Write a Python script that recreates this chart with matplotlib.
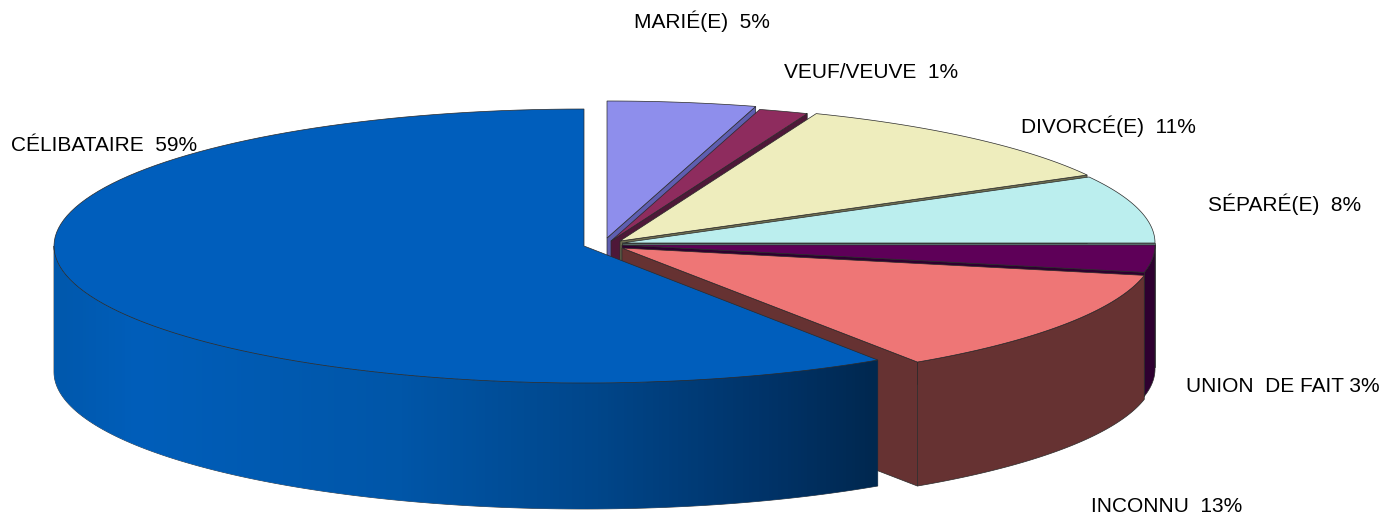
import numpy as np
import matplotlib
matplotlib.use("Agg")
import matplotlib.pyplot as plt
from matplotlib.colors import LinearSegmentedColormap
from matplotlib.patches import Polygon

plt.rcParams['font.family'] = ['Liberation Sans', 'DejaVu Sans']

# slices, clockwise from 12 o'clock
labels = ['MARIÉ(E)  5%', 'VEUF/VEUVE  1%', 'DIVORCÉ(E)  11%', 'SÉPARÉ(E)  8%',
          'UNION  DE FAIT 3%', 'INCONNU  13%', 'CÉLIBATAIRE  59%']
shares = [4.5, 1.5, 11.0, 8.0, 3.2, 12.45, 59.35]

top_colors = ['#8E8EEC', '#8E2C5E', '#EEEDBD', '#BBEEEE', '#5E0058', '#EE7676', '#005EBC']
cut_colors = ['#5E5EB0', '#4E1838', '#6E6E50', '#6E8E8E', '#2E0030', '#663232', '#00407E']
wall_colors = ['#5E5EB0', '#4E1838', '#8E8E70', '#6E8E8E', '#2E0030', '#663232', '#00407E']

# slice apex in pixels (pie is pulled apart)
centers = [(607, 238), (611, 241), (620, 241), (622, 243), (622, 245), (622, 248), (584, 246)]
radii_x = [533, 533, 533, 533, 533, 533, 530]
depths = [124, 124, 124, 124, 124, 124, 126]
label_pos = [(634, 28), (784, 78), (1021, 133), (1208, 211), (1186, 392), (1091, 512), (11, 151)]

ry = 137
edge = '#2a2a2a'


def pts(c, rx, a, b, n=120):
    t = np.radians(np.linspace(a, b, n))
    return np.column_stack([c[0] + rx * np.sin(t), c[1] - ry * np.cos(t)])


fig = plt.figure(figsize=(14, 5.18), dpi=100)
ax = fig.add_axes([0, 0, 1, 1])
ax.set_xlim(0, 1400)
ax.set_ylim(518, 0)
ax.axis('off')

blue_wall = LinearSegmentedColormap.from_list('blue_wall', [
    (0.0, '#0058AC'), (0.1, '#005EBA'), (0.42, '#0056A8'),
    (0.66, '#00468A'), (0.88, '#003266'), (1.0, '#00284F')])

ends = np.cumsum(shares) / sum(shares) * 360
starts = ends - np.array(shares) / sum(shares) * 360

for i in range(len(shares)):
    c = centers[i]
    rx = radii_x[i]
    depth = depths[i]
    a, b = starts[i], ends[i]
    z = 2 + i
    is_main = labels[i].startswith('CÉLIB')

    # cut face at the clockwise end of the slice
    if not is_main:
        e = pts(c, rx, b, b, 1)[0]
        ax.add_patch(Polygon([c, e, (e[0], e[1] + depth), (c[0], c[1] + depth)],
                             closed=True, fc=cut_colors[i], ec=edge, lw=0.5, zorder=z))

    # outer wall, only the front half shows
    wa, wb = max(a, 90), min(b, 270)
    if wb > wa:
        arc = pts(c, rx, wa, wb)
        wall = np.vstack([arc, arc[::-1] + [0, depth]])
        patch = Polygon(wall, closed=True, fc=wall_colors[i], ec=edge, lw=0.5, zorder=z)
        ax.add_patch(patch)
        if is_main:
            patch.set_facecolor('none')
            x0, x1 = wall[:, 0].min(), wall[:, 0].max()
            im = ax.imshow(np.linspace(0, 1, 256).reshape(1, -1), cmap=blue_wall, aspect='auto',
                           extent=[x0, x1, wall[:, 1].max(), wall[:, 1].min()], zorder=z)
            im.set_clip_path(patch)
            ax.set_xlim(0, 1400)
            ax.set_ylim(518, 0)

    # top face
    top = np.vstack([[c], pts(c, rx, a, b)])
    ax.add_patch(Polygon(top, closed=True, fc=top_colors[i], ec=edge, lw=0.5, zorder=z + 0.5))

for name, (x, y) in zip(labels, label_pos):
    ax.text(x, y, name, fontsize=15, color='black', ha='left', va='baseline', zorder=20)

fig.savefig('out.png', dpi=100, facecolor='white')
